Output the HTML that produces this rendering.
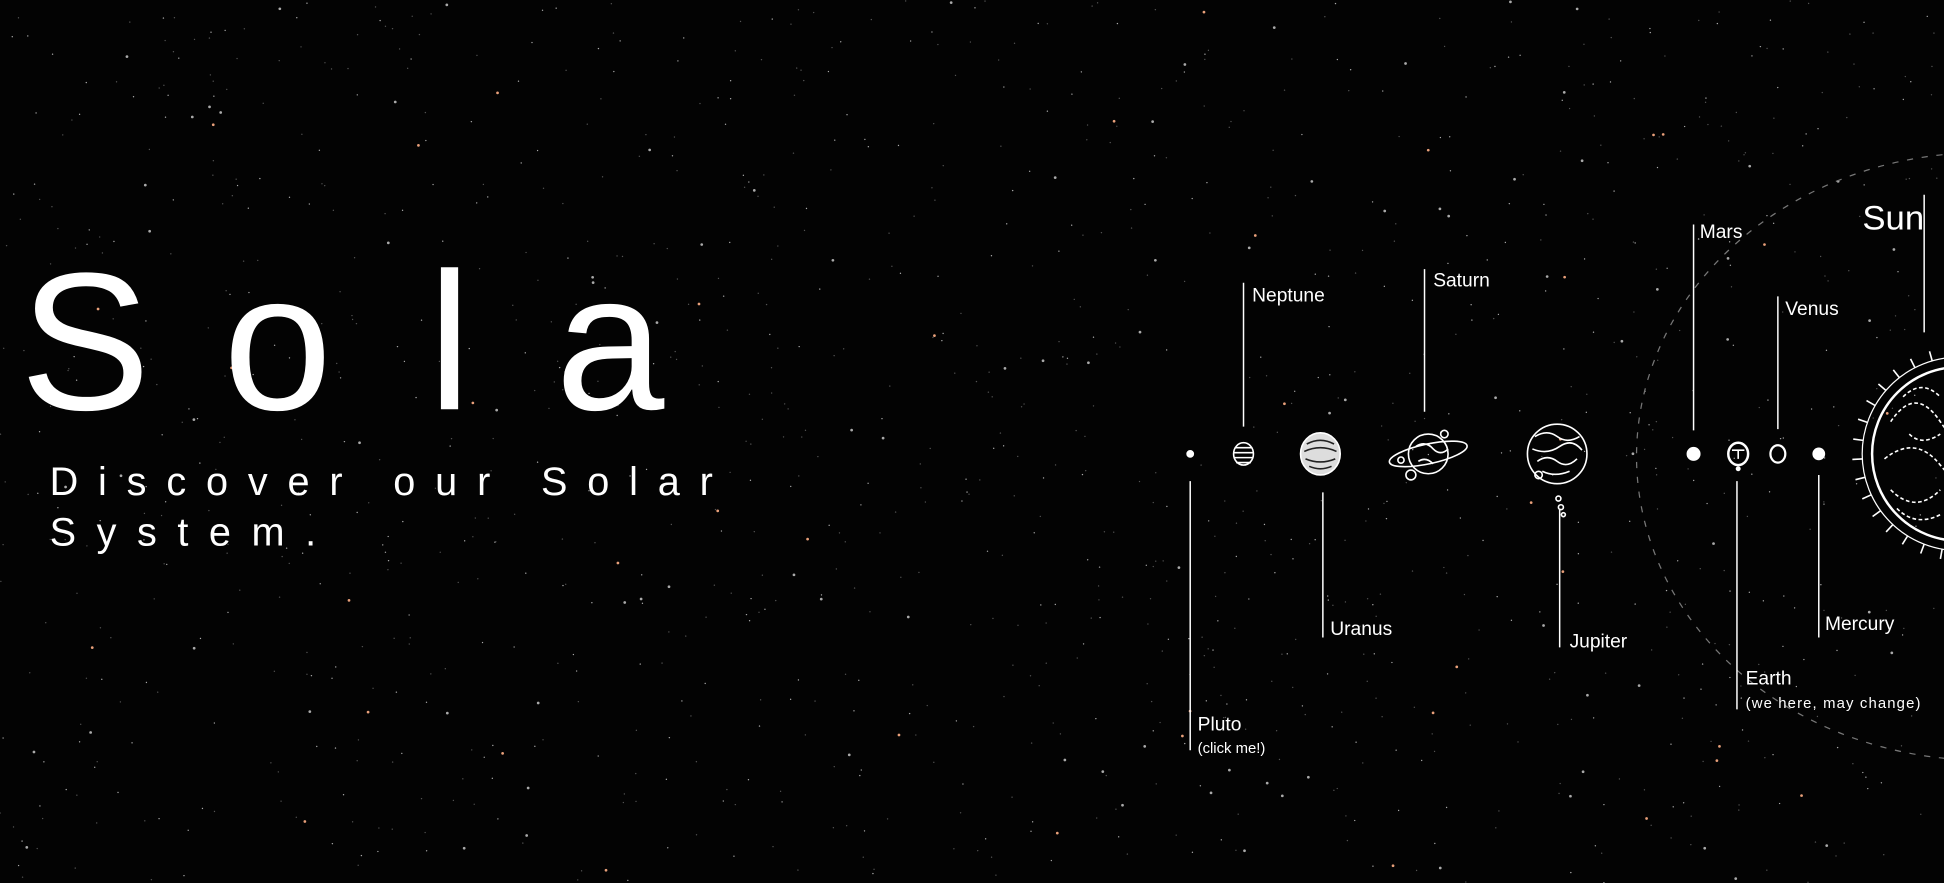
<!DOCTYPE html>
<html><head><meta charset="utf-8"><style>
html,body{margin:0;padding:0;background:#000;width:1944px;height:883px;overflow:hidden}
svg{display:block}
text{font-family:"Liberation Sans",sans-serif;fill:#fff}
</style></head><body>
<svg id="s" width="1944" height="883" viewBox="0 0 1568 712" preserveAspectRatio="none">
<rect width="1568" height="712" fill="#030303"/>
<g id="stars"></g>
<g>
<text x="16" y="330" font-size="158">S</text>
<text x="180" y="330" font-size="158">o</text>
<text x="345" y="330" font-size="158">l</text>
<text x="448" y="330" font-size="158">a</text>
</g>
<text x="40" y="399" font-size="32" textLength="535" lengthAdjust="spacing">Discover our Solar</text>
<text x="40" y="440" font-size="32" textLength="215" lengthAdjust="spacing">System.</text>
<ellipse cx="1600" cy="368" rx="280" ry="245" fill="none" stroke="#777" stroke-width="1" stroke-dasharray="5 7"/>
<g stroke="#fff" stroke-width="1.2" fill="none">
<line x1="1003" y1="228" x2="1003" y2="344"/>
<line x1="1149" y1="217" x2="1149" y2="332"/>
<line x1="1366" y1="181" x2="1366" y2="347"/>
<line x1="1434" y1="239" x2="1434" y2="346"/>
<line x1="1552" y1="157" x2="1552" y2="268"/>
<line x1="960" y1="388" x2="960" y2="605"/>
<line x1="1067" y1="397" x2="1067" y2="514"/>
<line x1="1258" y1="410" x2="1258" y2="522"/>
<line x1="1467" y1="383" x2="1467" y2="514"/>
<line x1="1401" y1="388" x2="1401" y2="572"/>
</g>
<g font-size="15.5">
<text x="1010" y="243">Neptune</text>
<text x="1156" y="231">Saturn</text>
<text x="1371" y="192">Mars</text>
<text x="1440" y="254">Venus</text>
<text x="966" y="589">Pluto</text>
<text x="966" y="607" font-size="12">(click me!)</text>
<text x="1073" y="512">Uranus</text>
<text x="1266" y="522">Jupiter</text>
<text x="1472" y="508">Mercury</text>
<text x="1408" y="552">Earth</text>
<text x="1408" y="571" font-size="12" textLength="141">(we here, may change)</text>
</g>
<text x="1552" y="185" font-size="28" text-anchor="end">Sun</text>
<g stroke="#fff" fill="none" stroke-width="1.3">
<circle cx="960" cy="366" r="2.5" fill="#fff"/>
<g><ellipse cx="1003" cy="366" rx="8" ry="9"/><path d="M996 361h14M995 365h16M995 369h16M997 373h12"/></g>
<g><ellipse cx="1065" cy="366" rx="16" ry="17" fill="#ddd"/><path d="M1054 358q11-6 22 0M1052 364q13-6 26 0M1053 370q12 5 24 0M1056 376q9 4 18 0" stroke="#222"/></g>
<g><circle cx="1152" cy="366" r="16"/><ellipse cx="1152" cy="366" rx="32" ry="8" transform="rotate(-12 1152 366)"/><path d="M1142 360q8-5 14 2q6 6 12 0M1144 372q6-4 12 2"/><circle cx="1138" cy="383" r="4"/><circle cx="1130" cy="371" r="2.5"/><circle cx="1165" cy="350" r="3"/></g>
<g><circle cx="1256" cy="366" r="24"/><path d="M1238 352q10-6 18 0t18 0M1236 362q12 5 22-2t18 3M1240 372q8-6 16 0t16-2M1244 380q10 5 22 0"/><circle cx="1241" cy="383" r="3"/><circle cx="1257" cy="402" r="2"/><circle cx="1259" cy="409" r="2"/><circle cx="1261" cy="415" r="1.6"/></g>
<circle cx="1366" cy="366" r="5" fill="#fff"/>
<g><ellipse cx="1402" cy="366" rx="8" ry="9" stroke-width="2"/><path d="M1397 363h10M1402 363v7"/><circle cx="1402" cy="378" r="2" fill="#fff" stroke="none"/></g>
<ellipse cx="1434" cy="366" rx="6" ry="7" stroke-width="1.8"/>
<circle cx="1467" cy="366" r="4.5" fill="#fff"/>
<g><circle cx="1580" cy="366" r="70" stroke-width="2"/><circle cx="1580" cy="366" r="78" stroke-width="1"/><g id="rays"></g>
<path d="M1525 340q20-30 40 0t30 0M1520 370q25-20 45 5t30-5M1525 395q20 20 40 0M1535 320q15-15 30 0M1530 410q15 15 35 5M1540 350q10 10 25 0" stroke-dasharray="3 2"/></g>
</g>
</svg>
<script>
var NS="http://www.w3.org/2000/svg";
var g=document.getElementById('stars');
var seed=7;function r(){seed=(seed*16807)%2147483647;return seed/2147483647;}
for(var i=0;i<1300;i++){var c=document.createElementNS(NS,'circle');
var x=r()*1568,y=r()*712,s=r();
c.setAttribute('cx',x.toFixed(1));c.setAttribute('cy',y.toFixed(1));
c.setAttribute('r',(s<0.9?0.55:1.1).toFixed(2));
c.setAttribute('fill',s>0.975?'#e9a07a':(s>0.55?'#aaa':'#555'));


g.appendChild(c);}
var rays=document.getElementById('rays');
for(var a=95;a<265;a+=11){var t=a*Math.PI/180;var l=document.createElementNS(NS,'line');
l.setAttribute('x1',(1580+Math.cos(t)*78).toFixed(1));l.setAttribute('y1',(366-Math.sin(t)*78).toFixed(1));
l.setAttribute('x2',(1580+Math.cos(t)*86).toFixed(1));l.setAttribute('y2',(366-Math.sin(t)*86).toFixed(1));


rays.appendChild(l);}
</script>
</body></html>
